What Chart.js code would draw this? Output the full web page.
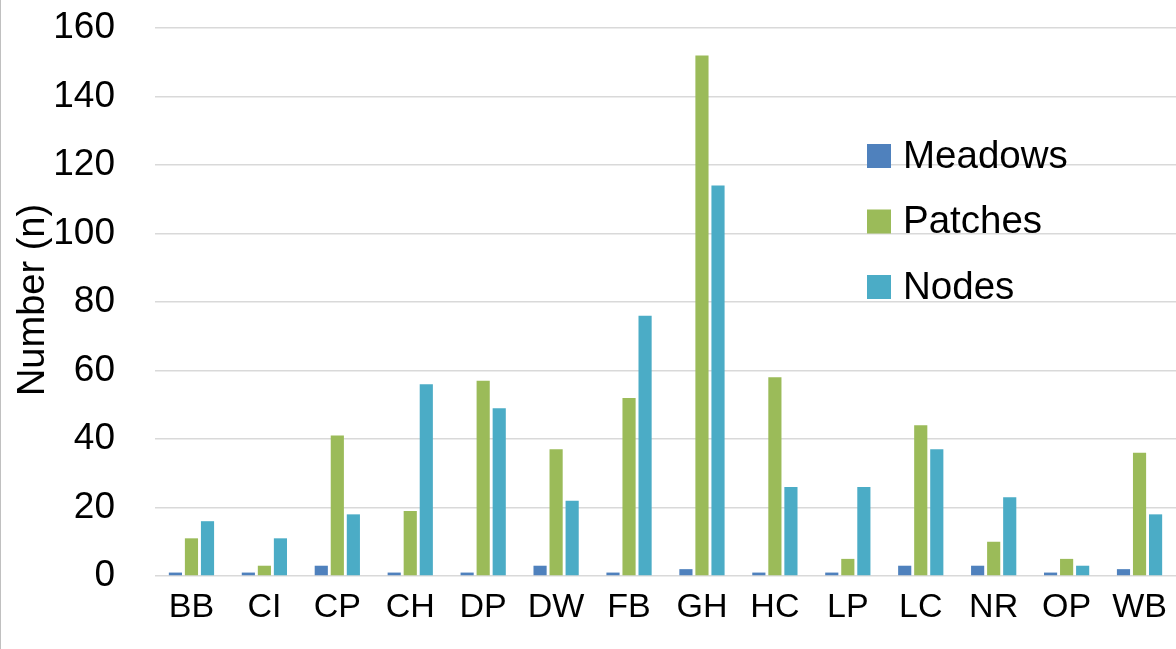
<!DOCTYPE html>
<html>
<head>
<meta charset="utf-8">
<script src="https://cdn.jsdelivr.net/npm/chart.js@4/dist/chart.umd.min.js"></script>
<style>
    html, body { margin: 0; padding: 0; background: #fff; }
    #cadre { width: 1175px; height: 649px; border-left: 1px solid #c0c0c0; position: relative; }
</style>
</head>
<body>
<div id="cadre"><canvas id="graphique"></canvas></div>
<script>
// ─── Données ─────────────────────────────────────────────────────
const sites    = ['BB','CI','CP','CH','DP','DW','FB','GH','HC','LP','LC','NR','OP','WB'];
const meadows  = [1, 1, 3, 1, 1, 3, 1, 2, 1, 1, 3, 3, 1, 2];
const patches  = [11, 3, 41, 19, 57, 37, 52, 152, 58, 5, 44, 10, 5, 36];
const nodes    = [16, 11, 18, 56, 49, 22, 76, 114, 26, 26, 37, 23, 3, 18];
const yTicks   = [0, 20, 40, 60, 80, 100, 120, 140, 160];

const POLICE = '"Liberation Sans", Arial, sans-serif';

/* Légende dessinée dans la zone du graphique */
const legendeInterne = {
    id: 'legendeInterne',
    afterDraw(chart) {
        const ctx = chart.ctx;
        ctx.save();
        ctx.font = '38.5px ' + POLICE;
        ctx.textBaseline = 'middle';
        ctx.textAlign = 'left';
        chart.data.datasets.forEach((ds, i) => {
            const y = 156 + i * 65.5;
            ctx.fillStyle = ds.backgroundColor;
            ctx.fillRect(866, y - 12, 24, 24);
            ctx.fillStyle = '#000';
            ctx.fillText(ds.label, 902, y + 1);
        });
        ctx.restore();
    }
};

/* Titre de l'axe Y, placé comme dans l'original */
const titreAxe = {
    id: 'titreAxe',
    afterDraw(chart) {
        const ctx = chart.ctx;
        ctx.save();
        ctx.font = '38px ' + POLICE;
        ctx.fillStyle = '#000';
        ctx.textAlign = 'center';
        ctx.textBaseline = 'middle';
        ctx.translate(33, 300);
        ctx.rotate(-Math.PI / 2);
        ctx.fillText('Number (n)', 0, 0);
        ctx.restore();
    }
};

new Chart(document.getElementById('graphique'), {
    type: 'bar',
    data: {
        labels: sites,
        datasets: [
            { label: 'Meadows', data: meadows, backgroundColor: '#4F81BD' },
            { label: 'Patches', data: patches, backgroundColor: '#9BBB59' },
            { label: 'Nodes',   data: nodes,   backgroundColor: '#4BACC6' },
        ],
    },
    options: {
        responsive: true,
        maintainAspectRatio: false,
        animation: false,
        layout: { padding: { top: 28, right: 0, left: 0, bottom: 0 } },
        datasets: { bar: { categoryPercentage: 0.66, barPercentage: 0.82 } },
        plugins: {
            legend: { display: false },
            tooltip: { enabled: false },
        },
        scales: {
            x: {
                grid: { display: false },
                border: { display: false },
                ticks: { color: '#000', font: { family: POLICE, size: 34 }, padding: 3, maxRotation: 0 },
                afterFit: a => { a.height = 73; a.paddingLeft = 0; a.paddingRight = 0; },
            },
            y: {
                min: 0,
                max: 160,
                afterBuildTicks: a => { a.ticks = yTicks.map(v => ({ value: v })); },
                grid: { color: '#d9d9d9', lineWidth: 1.5, drawTicks: false },
                border: { display: false },
                ticks: { color: '#000', font: { family: POLICE, size: 37 }, padding: 40 },
                afterFit: a => { a.width = 154; a.paddingTop = 0; a.paddingBottom = 0; },
            },
        },
    },
    plugins: [legendeInterne, titreAxe],
});
</script>
</body>
</html>
